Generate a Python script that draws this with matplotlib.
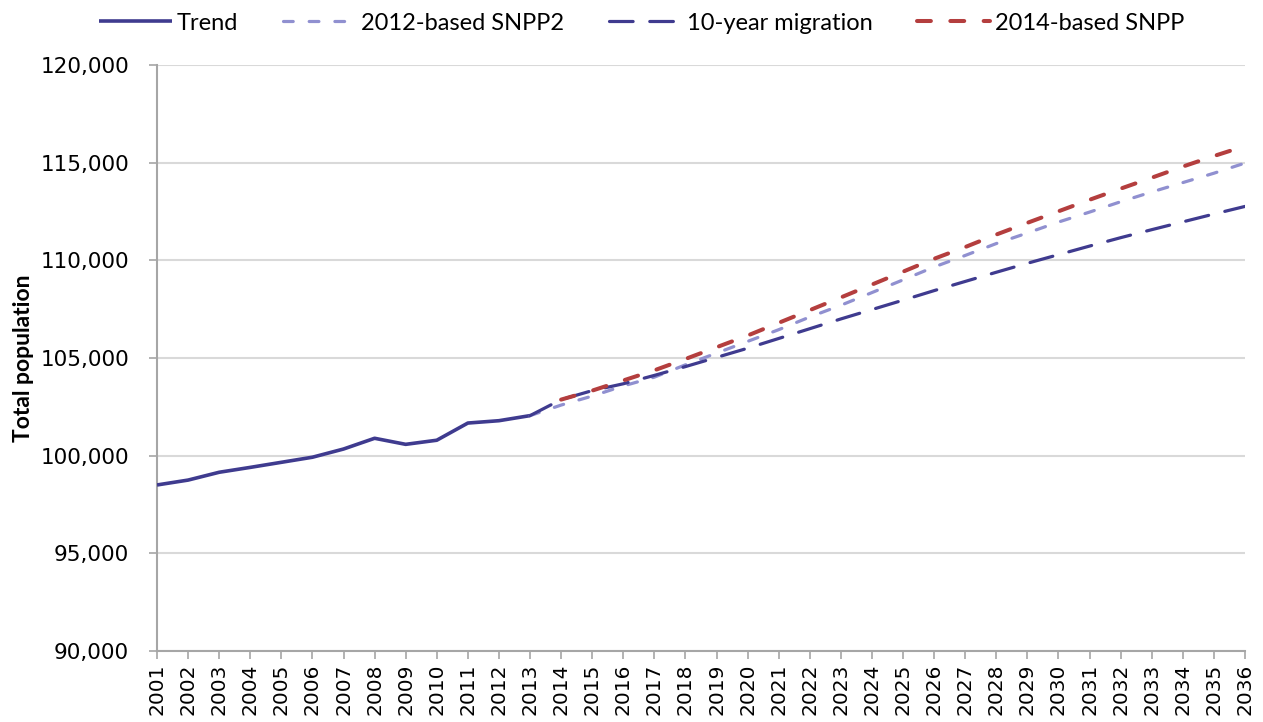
import matplotlib
matplotlib.use("Agg")
import matplotlib.pyplot as plt
from matplotlib.ticker import FuncFormatter, MultipleLocator

plt.rcParams['lines.scale_dashes'] = False
plt.rcParams['font.family'] = ['DejaVu Sans']

years_trend = list(range(2001, 2014))
trend = [98500, 98750, 99150, 99400, 99660, 99920, 100340, 100890, 100580,
         100790, 101670, 101790, 102050]

years_snpp12 = list(range(2013, 2037))
snpp12 = [102050, 102590, 103050, 103570, 104020, 104650, 105250, 105850,
          106450, 107100, 107700, 108350, 109000, 109660, 110250, 110860,
          111400, 111960, 112470, 113000, 113500, 113980, 114460, 114980]

years_mig = list(range(2013, 2037))
mig10 = [102050, 102870, 103330, 103680, 104110, 104560, 105030, 105500,
         106000, 106500, 107000, 107480, 107960, 108450, 108920, 109390,
         109850, 110290, 110730, 111160, 111570, 111970, 112370, 112760]

years_snpp14 = list(range(2014, 2037))
snpp14 = [102870, 103330, 103850, 104370, 104950, 105550, 106150, 106800,
          107450, 108100, 108760, 109420, 110080, 110680, 111320, 111920,
          112510, 113100, 113670, 114230, 114800, 115340, 115850]

x_ticks = list(range(2001, 2037))

fig = plt.figure(figsize=(12.63, 7.22), dpi=100)
ax = fig.add_axes([157/1263, 1-651/722, 1088/1263, 586/722])

c_trend = '#3f3b8f'
c_light = '#9090d0'
c_red = '#b43e3e'

ax.plot(years_trend, trend, color=c_trend, lw=2.6, label='Trend',
        solid_capstyle='butt', zorder=3)
ax.plot(years_snpp12, snpp12, color=c_light, lw=2.3, dashes=(7, 11.5),
        dash_capstyle='round', label='2012-based SNPP2', zorder=4)
ax.plot(years_mig, mig10, color=c_trend, lw=2.3, dashes=(17, 12),
        dash_capstyle='round', label='10-year migration', zorder=5)
ax.plot(years_snpp14, snpp14, color=c_red, lw=2.9, dashes=(10, 14),
        dash_capstyle='round', label='2014-based SNPP', zorder=6)

ax.set_xlim(2001, 2036)
ax.set_ylim(90000, 120000)
ax.yaxis.set_major_locator(MultipleLocator(5000))
ax.yaxis.set_major_formatter(FuncFormatter(lambda v, p: f"{int(v):,}"))
ax.set_xticks(x_ticks)
ax.set_xticklabels([str(y) for y in x_ticks], rotation=90)

ax.grid(axis='y', color='#d9d9d9', lw=1.5, zorder=0)
ax.set_axisbelow(True)
for s in ['top', 'right']:
    ax.spines[s].set_visible(False)
for s in ['left', 'bottom']:
    ax.spines[s].set_color('#a6a6a6')
    ax.spines[s].set_linewidth(1.5)

ax.tick_params(axis='both', direction='out', length=6, width=1.2,
               color='#a6a6a6', labelcolor='black')
ax.tick_params(axis='y', labelsize=15.5, pad=14)
ax.tick_params(axis='x', labelsize=14.5, pad=3)

ax.set_ylabel('Total population', fontsize=16.5, fontweight='bold',
              family='Lato', labelpad=5)

leg = fig.legend(loc='upper center', bbox_to_anchor=(0.508, 1.012), ncol=4,
                 frameon=False, prop={'family': 'Lato', 'size': 17},
                 handlelength=3.1, handletextpad=0.2, columnspacing=1.9)

fig.savefig('out.png', dpi=100)
